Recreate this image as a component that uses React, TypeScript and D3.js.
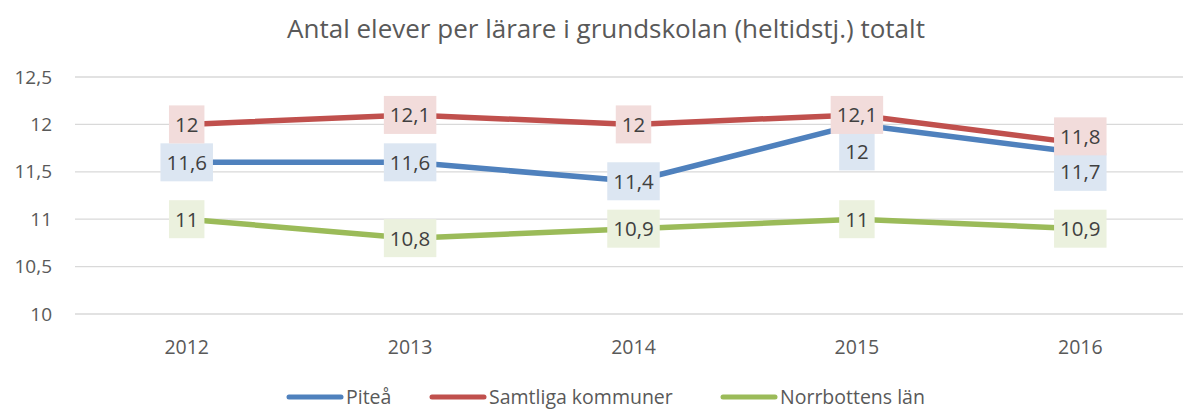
import React, { useEffect, useRef } from 'react';
import * as d3 from 'd3';

const years = ['2012', '2013', '2014', '2015', '2016'];
const pitea = [11.6, 11.6, 11.4, 12, 11.7];
const samtliga = [12, 12.1, 12, 12.1, 11.8];
const norrbotten = [11, 10.8, 10.9, 11, 10.9];
const yTicks = [10, 10.5, 11, 11.5, 12, 12.5];

const FONT = '"Open Sans", "Noto Sans", sans-serif';

const App: React.FC = () => {
  const svgRef = useRef<SVGSVGElement>(null);

  useEffect(() => {
    if (!svgRef.current) return;
    const svg = d3.select(svgRef.current);
    svg.selectAll('*').remove();

    const width = 1183;

    const x = d3.scalePoint<string>().domain(years).range([75, 1192]).padding(0.5);
    const y = d3.scaleLinear().domain([10, 12.5]).range([314, 77]);

    const fmt = (v: number) => String(v).replace('.', ',');

    // title
    svg.append('text')
      .attr('x', 606)
      .attr('y', 38)
      .attr('text-anchor', 'middle')
      .style('font-family', FONT)
      .style('font-size', '26px')
      .style('fill', '#595959')
      .text('Antal elever per lärare i grundskolan (heltidstj.) totalt');

    // gridlines + y labels
    yTicks.forEach(t => {
      svg.append('line')
        .attr('x1', 75)
        .attr('x2', width)
        .attr('y1', y(t))
        .attr('y2', y(t))
        .attr('stroke', '#d9d9d9')
        .attr('stroke-width', 1.3);
      svg.append('text')
        .attr('x', 52)
        .attr('y', y(t))
        .attr('dy', '0.35em')
        .attr('text-anchor', 'end')
        .style('font-family', FONT)
        .style('font-size', '19px')
        .style('fill', '#595959')
        .text(fmt(t));
    });

    // x labels
    years.forEach(yr => {
      svg.append('text')
        .attr('x', x(yr)!)
        .attr('y', 354)
        .attr('text-anchor', 'middle')
        .style('font-family', FONT)
        .style('font-size', '19.5px')
        .style('fill', '#595959')
        .text(yr);
    });

    const series = [
      { name: 'Piteå', values: pitea, color: '#4f81bd', fill: '#dce6f2', offsets: [0, 0, 0, 27, 19] },
      { name: 'Samtliga kommuner', values: samtliga, color: '#c0504d', fill: '#f2dcdb', offsets: [0, 0, 0, 0, -7] },
      { name: 'Norrbottens län', values: norrbotten, color: '#9bbb59', fill: '#ebf1de', offsets: [0, 0, 0, 0, 0] },
    ];

    const line = d3.line<number>()
      .x((_, i) => x(years[i])!)
      .y(d => y(d));

    series.forEach(s => {
      svg.append('path')
        .datum(s.values)
        .attr('d', line)
        .attr('fill', 'none')
        .attr('stroke', s.color)
        .attr('stroke-width', 5.5)
        .attr('stroke-linejoin', 'round')
        .attr('stroke-linecap', 'round');
    });

    // data labels
    series.forEach(s => {
      s.values.forEach((v, i) => {
        const cx = x(years[i])!;
        const cy = y(v) + s.offsets[i];
        const g = svg.append('g');
        const rect = g.append('rect').attr('fill', s.fill);
        const txt = g.append('text')
          .attr('x', cx)
          .attr('y', cy)
          .attr('dy', '0.36em')
          .attr('text-anchor', 'middle')
          .style('font-family', FONT)
          .style('font-size', '20.5px')
          .style('fill', '#404040')
          .text(fmt(v));
        const w = (txt.node() as SVGTextElement).getComputedTextLength() + 12;
        rect.attr('x', cx - w / 2).attr('y', cy - 19).attr('width', w).attr('height', 38);
      });
    });

    // legend
    const legendItems = [
      { x0: 287, ...series[0] },
      { x0: 430, ...series[1] },
      { x0: 721, ...series[2] },
    ];
    legendItems.forEach(it => {
      svg.append('line')
        .attr('x1', it.x0 + 2)
        .attr('x2', it.x0 + 54)
        .attr('y1', 397)
        .attr('y2', 397)
        .attr('stroke', it.color)
        .attr('stroke-width', 5)
        .attr('stroke-linecap', 'round');
      svg.append('text')
        .attr('x', it.x0 + 59)
        .attr('y', 397)
        .attr('dy', '0.35em')
        .style('font-family', FONT)
        .style('font-size', '19.5px')
        .style('fill', '#595959')
        .text(it.name);
    });
  }, []);

  return (
    <svg
      ref={svgRef}
      width={1183}
      height={410}
      style={{ position: 'absolute', left: 0, top: 0, background: '#fff' }}
    />
  );
};

export default App;
